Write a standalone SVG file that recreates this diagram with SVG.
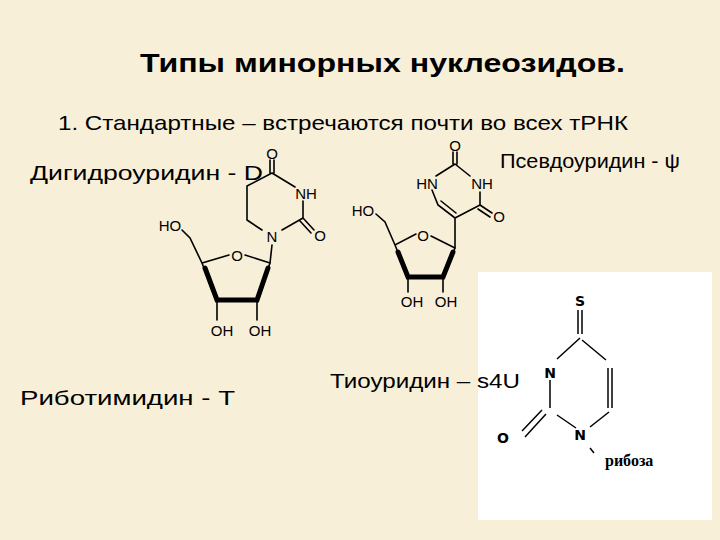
<svg xmlns="http://www.w3.org/2000/svg" width="720" height="540" viewBox="0 0 720 540">
<style>
.t{font-family:"Liberation Sans",Arial,sans-serif;fill:#000}
.b{stroke:#000;stroke-width:1.6;fill:none;stroke-linecap:round}
.w{stroke:#000;stroke-width:5;fill:none;stroke-linecap:round}
.a{font-family:"Liberation Sans",Arial,sans-serif;font-size:15px;fill:#000;text-anchor:middle}
.r{stroke:#000;stroke-width:1.5;fill:none}
</style>
<rect width="720" height="540" fill="#f8efd8"/>
<rect x="478" y="272" width="234" height="248" fill="#fff"/>
<text class="t" x="140" y="72" font-size="26" font-weight="bold" textLength="485" lengthAdjust="spacingAndGlyphs">Типы минорных нуклеозидов.</text>
<text class="t" x="58" y="130" font-size="21" textLength="570" lengthAdjust="spacingAndGlyphs">1. Стандартные – встречаются почти во всех тРНК</text>
<text class="t" x="30" y="180" font-size="21" textLength="233" lengthAdjust="spacingAndGlyphs">Дигидроуридин - D</text>
<text class="t" x="500" y="168" font-size="21" textLength="180" lengthAdjust="spacingAndGlyphs">Псевдоуридин - ψ</text>
<text class="t" x="20" y="405" font-size="21" textLength="215" lengthAdjust="spacingAndGlyphs">Риботимидин - T</text>
<text class="t" x="330" y="388" font-size="21" textLength="190" lengthAdjust="spacingAndGlyphs">Тиоуридин – s4U</text>

<g id="dihydrouridine">
<path class="b" d="M270,160 V173 M274,160 V173 M272,173 L295,187 M303,201 V218 L282,230 M303,218 L314,230 M300,221 L311,233 M262,230 L247,220 V186 L272,173 M272,245 L270,263"/>
<text class="a" x="272" y="159">O</text>
<text class="a" x="306" y="199">NH</text>
<text class="a" x="272" y="242">N</text>
<text class="a" x="320" y="241">O</text>
<path class="b" d="M229,255 L202,263 L190,238 L182,230 M245,255 L270,263 M202,263 L217,300 M257,300 L270,263 M217,300 V320 M257,300 V320"/>
<path class="w" d="M205,268 L217,300 L257,300 L268,268"/>
<text class="a" x="237" y="261">O</text>
<text class="a" x="170" y="231">HO</text>
<text class="a" x="222" y="336">OH</text>
<text class="a" x="260" y="336">OH</text>
</g>

<g id="pseudouridine">
<path class="b" d="M453,152 V164 M457,152 V164 M455,164 L436,176 M455,164 L470,176 M432,190 L438,205 L455,218 L480,205 L480,192 M441,201 L456,213 M480,205 L492,213 M478,209 L490,217 M455,218 L455,248"/>
<text class="a" x="455" y="151">O</text>
<text class="a" x="427" y="189">HN</text>
<text class="a" x="482" y="189">NH</text>
<text class="a" x="499" y="222">O</text>
<path class="b" d="M416,234 L395,245 L385,222 L376,214 M431,236 L455,248 M395,245 L408,277 M443,277 L455,248 M408,277 V292 M443,277 V292"/>
<path class="w" d="M398,252 L408,277 L443,277 L453,252"/>
<text class="a" x="423" y="241">O</text>
<text class="a" x="363" y="216">HO</text>
<text class="a" x="412" y="307">OH</text>
<text class="a" x="446" y="307">OH</text>
</g>

<g id="thiouridine">
<path class="r" d="M578,310 V334 M582,310 V334 M580,338 L557,359 M582,340 L606,360 M608,368 V408 M612,368 V408 M609,412 L590,427 M557,415 L576,428 M550,380 V408 M546,414 L525,437 M542,410 L522,431 M590,448 L594,453"/>
<g font-family="DejaVu Sans,sans-serif" font-size="14" font-weight="bold" text-anchor="middle">
<text x="580" y="306">S</text>
<text x="550" y="378">N</text>
<text x="580" y="440">N</text>
<text x="503" y="443">O</text>
</g>
<text x="605" y="466" font-family="Liberation Serif,serif" font-size="16" font-weight="bold">рибоза</text>
</g>
</svg>
